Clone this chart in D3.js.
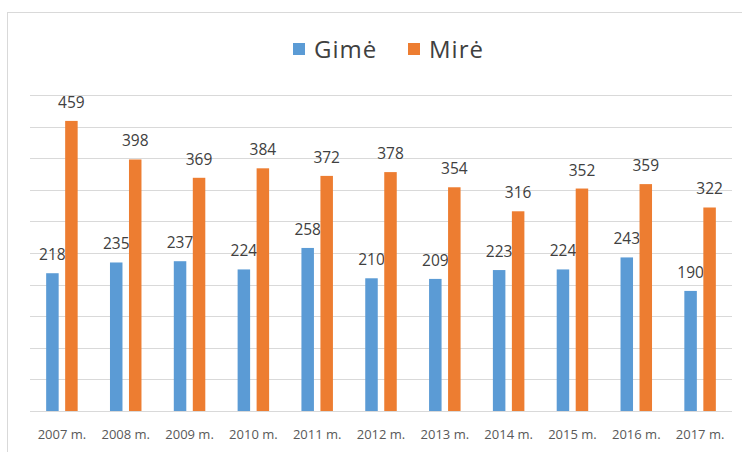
<!DOCTYPE html>
<html><head><meta charset="utf-8">
<script src="https://cdn.jsdelivr.net/npm/d3@7/dist/d3.min.js"></script>
<style>body{margin:0;background:#fff}svg{display:block}</style>
</head><body>
<svg id="c" width="742" height="452"></svg>
<script>
const categories = ["2007 m.","2008 m.","2009 m.","2010 m.","2011 m.","2012 m.","2013 m.","2014 m.","2015 m.","2016 m.","2017 m."];
const gime = [218,235,237,224,258,210,209,223,224,243,190];
const mire = [459,398,369,384,372,378,354,316,352,359,322];
const seriesNames = ["Gimė","Mirė"];
const colors = ["#5B9BD5","#ED7D31"];
const yTicks = [0,50,100,150,200,250,300,350,400,450,500];

(function(){
const svg = d3.select("#c");
const font = "'Open Sans', 'Liberation Sans', sans-serif";
svg.append("rect").attr("x",7.5).attr("y",12.5).attr("width",745).attr("height",460)
  .attr("fill","#fff").attr("stroke","#d9d9d9");

const pLeft=30, pRight=732, pTop=95, pBottom=411;
const x = d3.scaleBand().domain(categories).range([pLeft,pRight]).paddingInner(0).paddingOuter(0);
const y = d3.scaleLinear().domain([0,500]).range([pBottom,pTop]);

svg.append("g").selectAll("line").data(yTicks).join("line")
  .attr("x1",pLeft).attr("x2",pRight).attr("y1",d=>Math.round(y(d))+0.5).attr("y2",d=>Math.round(y(d))+0.5)
  .attr("stroke","#d9d9d9").attr("stroke-width",1);

const barW = 12.5, gap = 6.5;
const data = categories.map((c,i)=>({c, vals:[gime[i],mire[i]]}));
const g = svg.append("g");
data.forEach(d=>{
  const cx = x(d.c)+x.bandwidth()/2;
  d.vals.forEach((v,j)=>{
    const bx = j===0 ? cx-gap/2-barW : cx+gap/2;
    g.append("rect").attr("x",bx).attr("y",y(v)).attr("width",barW).attr("height",y(0)-y(v)).attr("fill",colors[j]);
    g.append("text").attr("x",bx+barW/2).attr("y",y(v)-13).attr("text-anchor","middle")
      .attr("font-family",font).attr("font-size",15.5).attr("fill","#404040").text(v);
  });
});

const xAxis = d3.axisBottom(x).tickSize(0).tickPadding(19);
const ax = svg.append("g").attr("transform",`translate(0,${pBottom})`).call(xAxis);
ax.select(".domain").remove();
ax.selectAll("text").attr("font-family",font).attr("font-size",13).attr("fill","#595959");

const leg = svg.append("g");
const legItems = [{n:seriesNames[0],c:colors[0],x:293},{n:seriesNames[1],c:colors[1],x:408}];
legItems.forEach(l=>{
  leg.append("rect").attr("x",l.x).attr("y",43).attr("width",12).attr("height",12).attr("fill",l.c);
  leg.append("text").attr("x",l.x+21).attr("y",58).attr("font-family",font).attr("font-size",24)
    .attr("letter-spacing",1).attr("fill","#404040").text(l.n);
});
})();
</script>
</body></html>
